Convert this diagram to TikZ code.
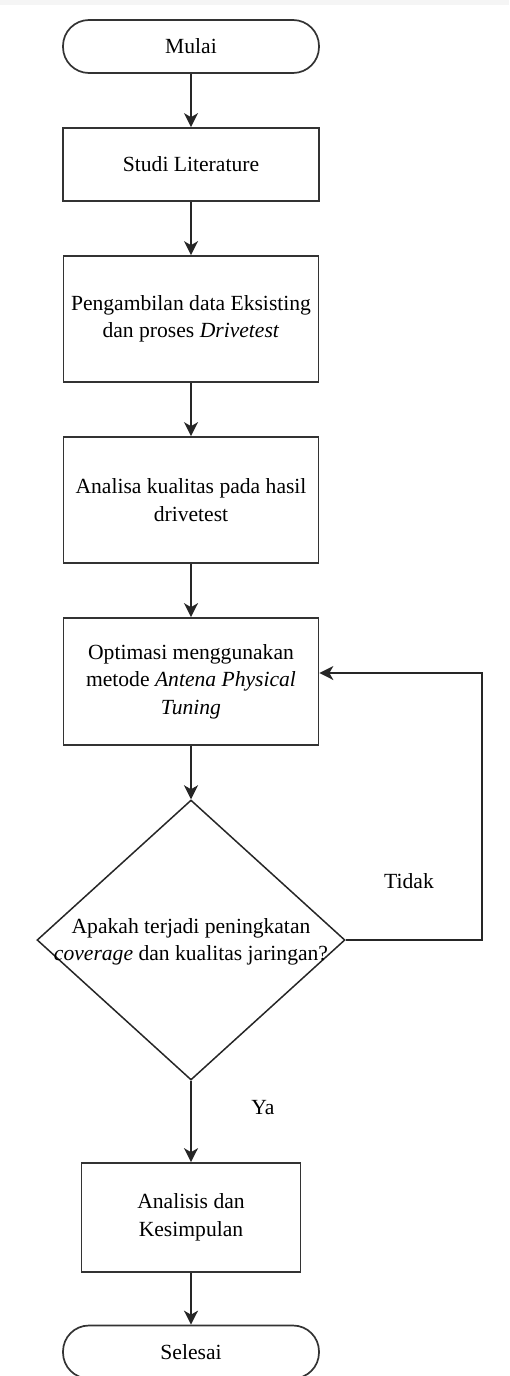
\documentclass[tikz,border=0pt]{standalone}
\usepackage{fontspec}
\setmainfont{Liberation Serif}
\usetikzlibrary{shapes.geometric,arrows.meta}
\begin{document}
\begin{tikzpicture}[x=1pt,y=-1pt,
  every node/.style={font=\fontsize{21.6}{27.5}\selectfont, text=black},
  box/.style={draw=black!80, line width=1.7pt, rectangle, inner sep=0pt, align=center},
  term/.style={draw=black!80, line width=1.7pt, rectangle, rounded corners=26pt, inner sep=0pt, minimum width=256pt, minimum height=53pt},
  dia/.style={draw=black!85, line width=1.5pt, diamond, inner sep=0pt, minimum width=308pt, minimum height=280pt},
  arr/.style={draw=black!85, line width=1.7pt, -{Stealth[length=14pt,width=14pt,inset=4pt]}},
  lbl/.style={inner sep=0pt}
]
\useasboundingbox (0,0) rectangle (509,1376);
\fill[black!4] (0,0) rectangle (509,5);

\node[term] (start) at (191,46.5) {Mulai};
\node[box, minimum width=256pt, minimum height=73pt] (studi) at (191,164.5) {Studi Literature};
\node[box, minimum width=255pt, minimum height=126pt] (peng) at (191,319) {Pengambilan data Eksisting\\dan proses \textit{Drivetest}};
\node[box, minimum width=255pt, minimum height=126pt] (anal) at (191,500) {Analisa kualitas pada hasil\\drivetest};
\node[box, minimum width=255pt, minimum height=127pt] (opt) at (191,681.5) {Optimasi menggunakan\\metode \textit{Antena Physical}\\\textit{Tuning}};
\node[dia] (dec) at (191,940) {};
\node[lbl, align=center] (dectext) at (191,942) {Apakah terjadi peningkatan\\\textit{coverage} dan kualitas jaringan?};
\node[box, minimum width=219pt, minimum height=109pt] (akhir) at (191,1217.5) {Analisis dan\\Kesimpulan};
\node[term] (end) at (191,1352) {Selesai};

\node[lbl] (tidak) at (409,881) {Tidak};
\node[lbl] (ya) at (263,1108) {Ya};

\coordinate (fb) at (482,673);

\draw[arr] (start) -- (studi);
\draw[arr] (studi) -- (peng);
\draw[arr] (peng) -- (anal);
\draw[arr] (anal) -- (opt);
\draw[arr] (opt) -- (dec.north);
\draw[arr] (dec.south) -- (akhir);
\draw[arr] (akhir) -- (end);
\draw[arr, rounded corners=0pt] (dec.east) -| (fb) -- (fb -| opt.east);
\end{tikzpicture}
\end{document}
